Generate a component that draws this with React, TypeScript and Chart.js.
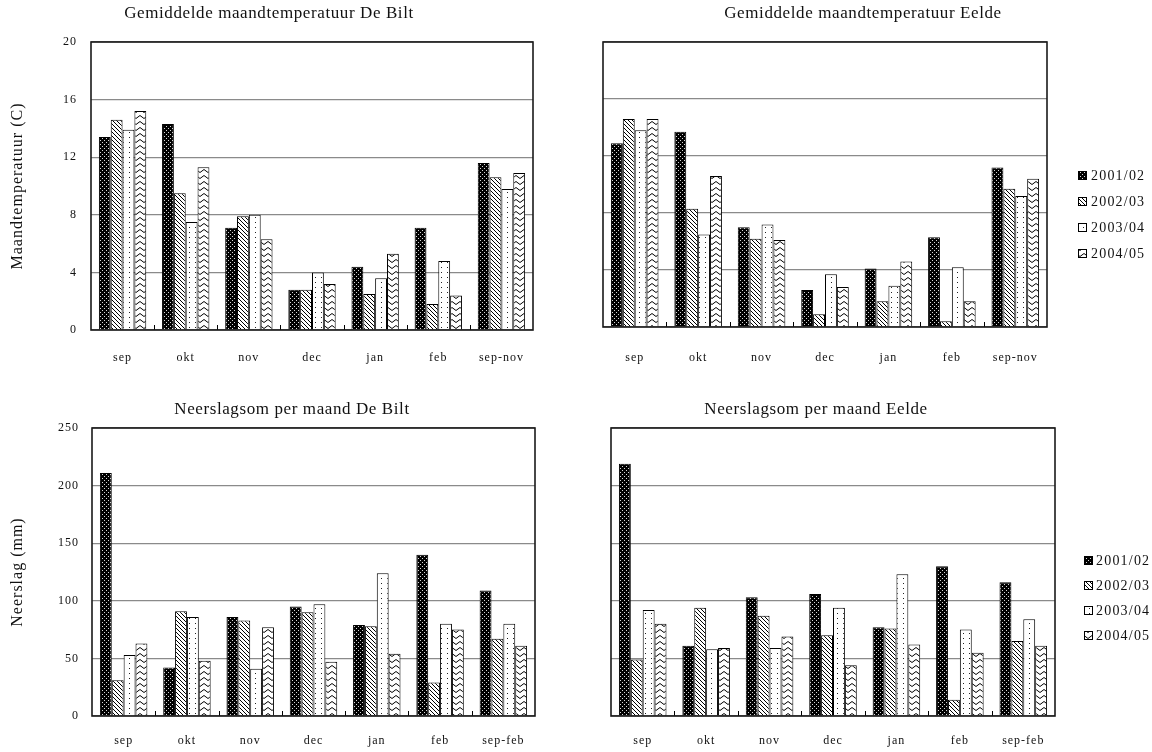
import React, { useEffect, useRef } from 'react';
import { Chart, registerables } from 'chart.js';

Chart.register(...registerables);

const FONT = '"Liberation Serif", "Times New Roman", serif';

const SEASONS = ['2001/02', '2002/03', '2003/04', '2004/05'];
const MONTHS_TEMP = ['sep', 'okt', 'nov', 'dec', 'jan', 'feb', 'sep-nov'];
const MONTHS_PRECIP = ['sep', 'okt', 'nov', 'dec', 'jan', 'feb', 'sep-feb'];

// Gemiddelde maandtemperatuur De Bilt (°C)
const DEBILT_TEMP_0102 = [13.4, 14.3, 7.1, 2.8, 4.4, 7.1, 11.6];
const DEBILT_TEMP_0203 = [14.6, 9.5, 7.9, 2.8, 2.5, 1.8, 10.6];
const DEBILT_TEMP_0304 = [13.9, 7.5, 8.0, 4.0, 3.6, 4.8, 9.8];
const DEBILT_TEMP_0405 = [15.2, 11.3, 6.3, 3.2, 5.3, 2.4, 10.9];

// Gemiddelde maandtemperatuur Eelde (°C)
const EELDE_TEMP_0102 = [12.9, 13.7, 7.0, 2.6, 4.1, 6.3, 11.2];
const EELDE_TEMP_0203 = [14.6, 8.3, 6.2, 0.9, 1.8, 0.4, 9.7];
const EELDE_TEMP_0304 = [13.8, 6.5, 7.2, 3.7, 2.9, 4.2, 9.2];
const EELDE_TEMP_0405 = [14.6, 10.6, 6.1, 2.8, 4.6, 1.8, 10.4];

// Neerslagsom per maand De Bilt (mm)
const DEBILT_PREC_0102 = [211, 42, 86, 95, 79, 140, 109];
const DEBILT_PREC_0203 = [31, 91, 83, 90, 78, 29, 67];
const DEBILT_PREC_0304 = [53, 86, 41, 97, 124, 80, 80];
const DEBILT_PREC_0405 = [63, 48, 77, 47, 54, 75, 61];

// Neerslagsom per maand Eelde (mm)
const EELDE_PREC_0102 = [219, 61, 103, 106, 77, 130, 116];
const EELDE_PREC_0203 = [49, 94, 87, 70, 76, 14, 65];
const EELDE_PREC_0304 = [92, 58, 59, 94, 123, 75, 84];
const EELDE_PREC_0405 = [80, 59, 69, 44, 62, 55, 61];

const TEMP_MAX = 20;
const TEMP_STEP = 4;
const PREC_MAX = 250;
const PREC_STEP = 50;

type LegendSpec = { boxX: number; textX: number; rows: number[] } | null;

type Spec = {
  key: string;
  left: number;
  top: number;
  labels: string[];
  series: number[][];
  max: number;
  step: number;
  showTicks: boolean;
  yTitle: string;
  yWidth: number;
  padRight: number;
  padTop: number;
  xHeight: number;
  xPad: number;
  tickPad: number;
  title: string;
  titleX: number;
  titleY: number;
  legend: LegendSpec;
};

const W = 576;
const H = 376;

const SPECS: Spec[] = [
  {
    key: 'tl', left: 0, top: 0, labels: MONTHS_TEMP,
    series: [DEBILT_TEMP_0102, DEBILT_TEMP_0203, DEBILT_TEMP_0304, DEBILT_TEMP_0405],
    max: TEMP_MAX, step: TEMP_STEP, showTicks: true, yTitle: 'Maandtemperatuur (C)',
    yWidth: 91, padRight: 43, padTop: 42, xHeight: 46, xPad: 21, tickPad: 14,
    title: 'Gemiddelde maandtemperatuur De Bilt', titleX: 269, titleY: 14, legend: null,
  },
  {
    key: 'tr', left: 576, top: 0, labels: MONTHS_TEMP,
    series: [EELDE_TEMP_0102, EELDE_TEMP_0203, EELDE_TEMP_0304, EELDE_TEMP_0405],
    max: TEMP_MAX, step: TEMP_STEP, showTicks: false, yTitle: '',
    yWidth: 27, padRight: 105, padTop: 42, xHeight: 49, xPad: 24, tickPad: 14,
    title: 'Gemiddelde maandtemperatuur Eelde', titleX: 287, titleY: 14,
    legend: { boxX: 502, textX: 515, rows: [175, 201, 227, 253] },
  },
  {
    key: 'bl', left: 0, top: 376, labels: MONTHS_PRECIP,
    series: [DEBILT_PREC_0102, DEBILT_PREC_0203, DEBILT_PREC_0304, DEBILT_PREC_0405],
    max: PREC_MAX, step: PREC_STEP, showTicks: true, yTitle: 'Neerslag (mm)',
    yWidth: 92, padRight: 41, padTop: 52, xHeight: 36, xPad: 18, tickPad: 13,
    title: 'Neerslagsom per maand De Bilt', titleX: 292, titleY: 34, legend: null,
  },
  {
    key: 'br', left: 576, top: 376, labels: MONTHS_PRECIP,
    series: [EELDE_PREC_0102, EELDE_PREC_0203, EELDE_PREC_0304, EELDE_PREC_0405],
    max: PREC_MAX, step: PREC_STEP, showTicks: false, yTitle: '',
    yWidth: 35, padRight: 97, padTop: 52, xHeight: 36, xPad: 18, tickPad: 13,
    title: 'Neerslagsom per maand Eelde', titleX: 240, titleY: 34,
    legend: { boxX: 508, textX: 520, rows: [184, 209, 234, 259] },
  },
];

function makePatterns(ctx: CanvasRenderingContext2D): (CanvasPattern | string)[] {
  const mk = (w: number, h: number, draw: (g: CanvasRenderingContext2D) => void) => {
    const c = document.createElement('canvas');
    c.width = w;
    c.height = h;
    const g = c.getContext('2d') as CanvasRenderingContext2D;
    draw(g);
    return ctx.createPattern(c, 'repeat') || '#888';
  };
  return [
    mk(4, 4, (g) => {
      g.fillStyle = '#000';
      g.fillRect(0, 0, 4, 4);
      g.fillStyle = '#d8d8d8';
      g.fillRect(0, 0, 1, 1);
      g.fillRect(2, 2, 1, 1);
    }),
    mk(4, 4, (g) => {
      g.fillStyle = '#fff';
      g.fillRect(0, 0, 4, 4);
      g.fillStyle = '#000';
      for (let i = 0; i < 4; i++) g.fillRect(i, i, 1, 1);
    }),
    mk(6, 5, (g) => {
      g.fillStyle = '#fff';
      g.fillRect(0, 0, 6, 5);
      g.fillStyle = '#222';
      g.fillRect(3, 2, 1, 1);
    }),
    mk(8, 6, (g) => {
      g.fillStyle = '#fff';
      g.fillRect(0, 0, 8, 6);
      g.strokeStyle = '#000';
      g.lineWidth = 1;
      g.beginPath();
      g.moveTo(0, 4.5);
      g.lineTo(4, 1.5);
      g.lineTo(8, 4.5);
      g.stroke();
    }),
  ];
}

const decorPlugin = {
  id: 'decor',
  beforeDraw(chart: any, _args: any, opts: any) {
    (chart.ctx as any).letterSpacing = opts.letterSpacing || '0px';
  },
  afterDatasetsDraw(chart: any) {
    const { ctx, chartArea } = chart;
    const xs = chart.scales.x;
    ctx.save();
    ctx.strokeStyle = '#000';
    ctx.lineWidth = 1;
    const n = chart.data.labels.length;
    for (let i = 0; i < n - 1; i++) {
      const x = Math.round((xs.getPixelForValue(i) + xs.getPixelForValue(i + 1)) / 2) + 0.5;
      ctx.beginPath();
      ctx.moveTo(x, chartArea.bottom);
      ctx.lineTo(x, chartArea.bottom - 5);
      ctx.stroke();
    }
    ctx.lineWidth = 1.6;
    ctx.strokeStyle = '#1a1a1a';
    ctx.strokeRect(chartArea.left, chartArea.top, chartArea.right - chartArea.left, chartArea.bottom - chartArea.top);
    ctx.restore();
  },
  afterDraw(chart: any, _args: any, opts: any) {
    const { ctx } = chart;
    ctx.save();
    (ctx as any).letterSpacing = '0.6px';
    ctx.fillStyle = '#111';
    ctx.font = `17px ${FONT}`;
    ctx.textAlign = 'center';
    ctx.textBaseline = 'middle';
    ctx.fillText(opts.title, opts.titleX, opts.titleY);
    const lg = opts.legend as LegendSpec;
    if (lg) {
      (ctx as any).letterSpacing = '1.2px';
      ctx.font = `14px ${FONT}`;
      ctx.textAlign = 'left';
      chart.data.datasets.forEach((ds: any, i: number) => {
        const y = lg.rows[i];
        ctx.fillStyle = ds.backgroundColor;
        ctx.fillRect(lg.boxX, y - 4, 8, 8);
        ctx.strokeStyle = '#000';
        ctx.lineWidth = 1;
        ctx.strokeRect(lg.boxX + 0.5, y - 3.5, 8, 8);
        ctx.fillStyle = '#111';
        ctx.fillText(ds.label, lg.textX, y + 1);
      });
    }
    ctx.restore();
  },
};

function ChartPanel({ spec }: { spec: Spec }) {
  const ref = useRef<HTMLCanvasElement | null>(null);
  useEffect(() => {
    const canvas = ref.current;
    if (!canvas) return;
    const ctx = canvas.getContext('2d') as CanvasRenderingContext2D;
    const patterns = makePatterns(ctx);
    const chart = new Chart(canvas, {
      type: 'bar',
      data: {
        labels: spec.labels,
        datasets: SEASONS.map((s, i) => ({
          label: s,
          data: spec.series[i],
          backgroundColor: patterns[i] as any,
          borderColor: '#000',
          borderWidth: 1,
          categoryPercentage: 0.75,
          barPercentage: 1.0,
        })),
      },
      options: {
        animation: false,
        responsive: false,
        devicePixelRatio: 1,
        layout: { padding: { left: 0, right: spec.padRight, top: spec.padTop, bottom: 0 } },
        plugins: {
          legend: { display: false },
          title: { display: false },
          tooltip: { enabled: false },
          decor: {
            letterSpacing: '1px',
            title: spec.title,
            titleX: spec.titleX,
            titleY: spec.titleY,
            legend: spec.legend,
          },
        } as any,
        scales: {
          x: {
            grid: { display: false, drawTicks: false },
            border: { display: false },
            ticks: {
              color: '#111',
              font: { family: FONT, size: 12 },
              padding: spec.xPad,
              maxRotation: 0,
              autoSkip: false,
            },
            afterFit: (a: any) => {
              a.height = spec.xHeight;
            },
          },
          y: {
            min: 0,
            max: spec.max,
            ticks: {
              display: spec.showTicks,
              stepSize: spec.step,
              color: '#111',
              font: { family: FONT, size: 12 },
              padding: spec.tickPad,
            },
            grid: { color: '#8a8a8a', lineWidth: 1.2, drawTicks: false },
            border: { display: false },
            title: {
              display: !!spec.yTitle,
              text: spec.yTitle,
              color: '#111',
              font: { family: FONT, size: 16 },
              padding: { top: 8, bottom: 0 },
            },
            afterFit: (a: any) => {
              a.width = spec.yWidth;
            },
          },
        },
      },
      plugins: [decorPlugin as any],
    });
    return () => chart.destroy();
  }, [spec]);
  return (
    <canvas
      ref={ref}
      width={W}
      height={H}
      style={{ position: 'absolute', left: spec.left, top: spec.top, width: W, height: H, display: 'block' }}
    />
  );
}

export default function App() {
  return (
    <div style={{ position: 'absolute', left: 0, top: 0, width: 1152, height: 752, background: '#fff', overflow: 'hidden' }}>
      {SPECS.map((s) => (
        <ChartPanel key={s.key} spec={s} />
      ))}
    </div>
  );
}
